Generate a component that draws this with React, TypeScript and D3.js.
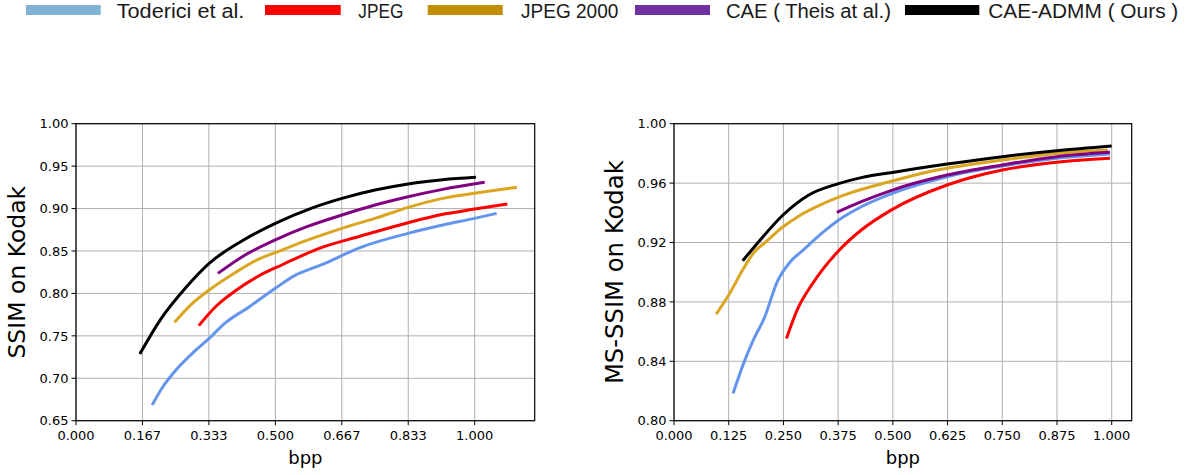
import * as d3 from 'd3';

// legend entries
const seriesNames = ['Toderici et al.', 'JPEG', 'JPEG 2000', 'CAE ( Theis at al.)', 'CAE-ADMM ( Ours )'];
const legendColors = ['#80b3d6', '#ff0000', '#bf8f00', '#7030a0', '#000000'];
const lineColors = ['#6495ed', '#ff0000', '#daa520', '#800080', '#000000'];

// SSIM panel (left)
const ssimTodericiBpp = [0.191, 0.218, 0.247, 0.292, 0.334, 0.373, 0.435, 0.5, 0.548, 0.615, 0.714, 0.833, 0.92, 1.0, 1.055];
const ssimToderici = [0.6685, 0.69, 0.7077, 0.7294, 0.747, 0.7647, 0.7844, 0.806, 0.8209, 0.8335, 0.8543, 0.8708, 0.8806, 0.8884, 0.8943];
const ssimJpegBpp = [0.308, 0.35, 0.399, 0.458, 0.516, 0.615, 0.714, 0.833, 0.92, 1.0, 1.082];
const ssimJpeg = [0.762, 0.7843, 0.8028, 0.8205, 0.8335, 0.8539, 0.8676, 0.8833, 0.8932, 0.8994, 0.9053];
const ssimJp2Bpp = [0.247, 0.292, 0.334, 0.399, 0.462, 0.5, 0.57, 0.667, 0.75, 0.833, 0.92, 1.0, 1.106];
const ssimJp2 = [0.7659, 0.7883, 0.804, 0.8244, 0.8413, 0.848, 0.861, 0.8767, 0.8884, 0.9014, 0.912, 0.918, 0.925];
const ssimTheisBpp = [0.356, 0.417, 0.5, 0.579, 0.667, 0.75, 0.833, 0.92, 1.025];
const ssimTheis = [0.8236, 0.8433, 0.863, 0.8786, 0.8924, 0.9042, 0.914, 0.9226, 0.9309];
const ssimOursBpp = [0.16, 0.211, 0.274, 0.334, 0.417, 0.5, 0.588, 0.667, 0.75, 0.833, 0.92, 1.003];
const ssimOurs = [0.7286, 0.7686, 0.806, 0.8354, 0.862, 0.8826, 0.9, 0.912, 0.9218, 0.929, 0.934, 0.9368];

// MS-SSIM panel (right)
const msTodericiBpp = [0.135, 0.159, 0.183, 0.206, 0.236, 0.266, 0.295, 0.342, 0.374, 0.428, 0.499, 0.624, 0.75, 0.874, 0.996];
const msToderici = [0.8184, 0.8386, 0.8554, 0.8689, 0.8936, 0.9071, 0.9149, 0.9273, 0.9347, 0.9441, 0.9531, 0.9643, 0.9715, 0.9767, 0.9796];
const msJpegBpp = [0.257, 0.283, 0.317, 0.374, 0.428, 0.499, 0.624, 0.75, 0.874, 0.996];
const msJpeg = [0.8554, 0.8756, 0.8925, 0.9138, 0.9284, 0.9423, 0.9587, 0.9688, 0.974, 0.9767];
const msJp2Bpp = [0.0965, 0.125, 0.159, 0.184, 0.206, 0.249, 0.283, 0.342, 0.385, 0.499, 0.59, 0.75, 0.874, 0.991];
const msJp2 = [0.8718, 0.8846, 0.9026, 0.9138, 0.9194, 0.9306, 0.9374, 0.9463, 0.9515, 0.9614, 0.9681, 0.9755, 0.98, 0.9823];
const msTheisBpp = [0.372, 0.428, 0.499, 0.624, 0.75, 0.874, 0.996];
const msTheis = [0.9403, 0.9475, 0.9553, 0.9654, 0.9722, 0.9778, 0.9807];
const msOursBpp = [0.157, 0.197, 0.249, 0.308, 0.374, 0.428, 0.499, 0.624, 0.75, 0.874, 1.0];
const msOurs = [0.9077, 0.9217, 0.9385, 0.952, 0.9595, 0.9637, 0.9672, 0.9728, 0.9778, 0.9818, 0.985];

// tick labels
const ssimXTicks = [0, 1 / 6, 2 / 6, 3 / 6, 4 / 6, 5 / 6, 1];
const ssimYTicks = [0.65, 0.7, 0.75, 0.8, 0.85, 0.9, 0.95, 1.0];
const msXTicks = [0, 0.125, 0.25, 0.375, 0.5, 0.625, 0.75, 0.875, 1.0];
const msYTicks = [0.8, 0.84, 0.88, 0.92, 0.96, 1.0];

const tickFont = 'DejaVu Sans, sans-serif';

type Series = { x: number[]; y: number[] };

function Panel({ left, right, top, bottom, xMax, yDomain, xTicks, yTicks, series, yLabel, yLabelSize, yLabelX }: {
  left: number; right: number; top: number; bottom: number; xMax: number;
  yDomain: [number, number]; xTicks: number[]; yTicks: number[]; series: Series[];
  yLabel: string; yLabelSize: number; yLabelX: number;
}) {
  const x = d3.scaleLinear().domain([0, xMax]).range([left, right]);
  const y = d3.scaleLinear().domain(yDomain).range([bottom, top]);
  const line = d3.line<[number, number]>()
    .x(d => x(d[0]))
    .y(d => y(d[1]))
    .curve(d3.curveMonotoneX);
  const midY = (top + bottom) / 2;

  return (
    <g>
      {xTicks.map((t, i) => (
        <line key={'gx' + i} x1={x(t)} x2={x(t)} y1={top} y2={bottom} stroke="#b0b0b0" strokeWidth={1} />
      ))}
      {yTicks.map((t, i) => (
        <line key={'gy' + i} x1={left} x2={right} y1={y(t)} y2={y(t)} stroke="#b0b0b0" strokeWidth={1} />
      ))}
      {series.map((s, i) => (
        <path key={'s' + i} d={line(s.x.map((v, j) => [v, s.y[j]] as [number, number])) || ''}
          fill="none" stroke={lineColors[i]} strokeWidth={3} strokeLinejoin="round" />
      ))}
      <rect x={left} y={top} width={right - left} height={bottom - top} fill="none" stroke="#000" strokeWidth={1.2} />
      {xTicks.map((t, i) => (
        <g key={'tx' + i}>
          <line x1={x(t)} x2={x(t)} y1={bottom} y2={bottom + 4.5} stroke="#000" />
          <text x={x(t)} y={bottom + 19.5} textAnchor="middle" fontFamily={tickFont} fontSize={13} fill="#000">{t.toFixed(3)}</text>
        </g>
      ))}
      {yTicks.map((t, i) => (
        <g key={'ty' + i}>
          <line x1={left - 4.5} x2={left} y1={y(t)} y2={y(t)} stroke="#000" />
          <text x={left - 7.5} y={y(t)} dy="0.36em" textAnchor="end" fontFamily={tickFont} fontSize={13} fill="#000">{t.toFixed(2)}</text>
        </g>
      ))}
      <text x={(left + right) / 2} y={463.5} textAnchor="middle" fontFamily={tickFont} fontSize={18} fill="#000">bpp</text>
      <text transform={`translate(${yLabelX},${midY}) rotate(-90)`} textAnchor="middle" dy="0.36em"
        fontFamily={tickFont} fontSize={yLabelSize} fill="#000">{yLabel}</text>
    </g>
  );
}

const legendPatchX = [26, 265, 427.7, 635, 905];
const legendPatchW = [74.7, 75.7, 75, 75, 74.3];
const legendTextX = [116.7, 358.3, 521, 726, 988.3];
const legendTextW = [127.7, 45, 97.3, 165, 190];

export default function App() {
  const ssimSeries: Series[] = [
    { x: ssimTodericiBpp, y: ssimToderici },
    { x: ssimJpegBpp, y: ssimJpeg },
    { x: ssimJp2Bpp, y: ssimJp2 },
    { x: ssimTheisBpp, y: ssimTheis },
    { x: ssimOursBpp, y: ssimOurs },
  ];
  const msSeries: Series[] = [
    { x: msTodericiBpp, y: msToderici },
    { x: msJpegBpp, y: msJpeg },
    { x: msJp2Bpp, y: msJp2 },
    { x: msTheisBpp, y: msTheis },
    { x: msOursBpp, y: msOurs },
  ];

  return (
    <svg width={1186} height={475} style={{ position: 'absolute', left: 0, top: 0, background: '#fff' }}>
      <g>
        {seriesNames.map((name, i) => (
          <g key={name}>
            <rect x={legendPatchX[i]} y={5} width={legendPatchW[i]} height={10} fill={legendColors[i]} />
            <text x={legendTextX[i]} y={18.3} textLength={legendTextW[i]} lengthAdjust="spacingAndGlyphs"
              fontFamily="Liberation Sans, Arial, sans-serif" fontSize={20} fill="#1a1a1a">{name}</text>
          </g>
        ))}
      </g>
      <Panel left={76} right={534.7} top={123.7} bottom={420.7} xMax={1.1505} yDomain={[0.65, 1.0]}
        xTicks={ssimXTicks} yTicks={ssimYTicks} series={ssimSeries}
        yLabel="SSIM on Kodak" yLabelSize={23.5} yLabelX={17} />
      <Panel left={674} right={1131.7} top={123.7} bottom={420.7} xMax={1.0457} yDomain={[0.8, 1.0]}
        xTicks={msXTicks} yTicks={msYTicks} series={msSeries}
        yLabel="MS-SSIM on Kodak" yLabelSize={24.3} yLabelX={614.5} />
    </svg>
  );
}
